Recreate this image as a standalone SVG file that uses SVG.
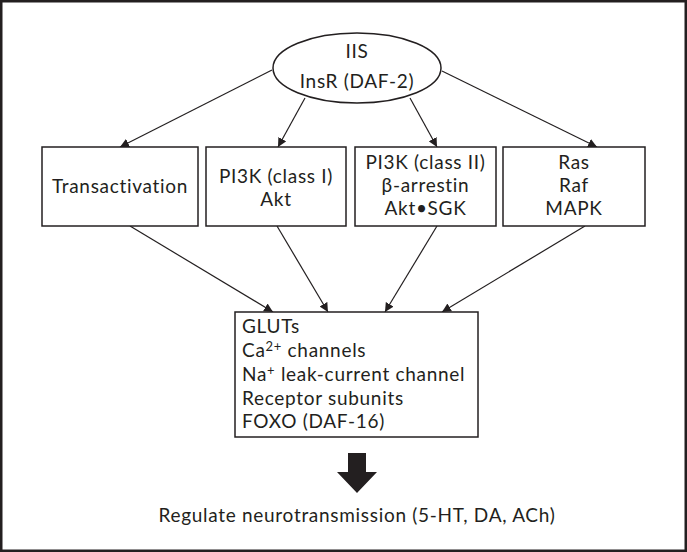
<svg xmlns="http://www.w3.org/2000/svg" width="687" height="552" viewBox="0 0 687 552">
<defs>
<marker id="ah" viewBox="0 0 10 10" refX="10" refY="5" markerWidth="9" markerHeight="9" markerUnits="userSpaceOnUse" orient="auto">
<path d="M0,0 L10,5 L0,10 z" fill="#231f20"/>
</marker>
<style>
.t{font-family:Lato,"Open Sans","DejaVu Sans",sans-serif;font-size:19px;letter-spacing:0.7px;fill:#231f20}
.c{text-anchor:middle}
.box{fill:#fff;stroke:#231f20;stroke-width:1.5}
.ln{stroke:#231f20;stroke-width:1.2;fill:none;marker-end:url(#ah)}
</style>
</defs>
<rect x="0" y="0" width="687" height="552" fill="#fff"/>
<rect x="1.25" y="1.25" width="684.5" height="549.5" fill="none" stroke="#231f20" stroke-width="2.5"/>
<g id="connectors">
<line class="ln" x1="272" y1="70" x2="120" y2="147"/>
<line class="ln" x1="305" y1="98" x2="278" y2="147"/>
<line class="ln" x1="410" y1="98" x2="437" y2="147"/>
<line class="ln" x1="442" y1="71" x2="597" y2="147"/>
<line class="ln" x1="130" y1="226" x2="273" y2="312"/>
<line class="ln" x1="277" y1="226" x2="328" y2="312"/>
<line class="ln" x1="437" y1="226" x2="385" y2="312"/>
<line class="ln" x1="585" y1="226" x2="442" y2="312"/>
<path d="M348,453 L366,453 L366,472 L377,472 L357,493 L337,472 L348,472 z" fill="#231f20"/>
</g>
<g id="iis">
<ellipse class="box" cx="357" cy="68" rx="84" ry="35"/>
<text class="t c" x="357" y="58">IIS</text>
<text class="t c" x="357" y="88">InsR (DAF-2)</text>
</g>
<g id="transactivation">
<rect class="box" x="42" y="147" width="156" height="79"/>
<text class="t c" x="120" y="193">Transactivation</text>
</g>
<g id="pi3k1">
<rect class="box" x="206" y="147" width="140" height="79"/>
<text class="t c" x="276" y="183">PI3K (class I)</text>
<text class="t c" x="276" y="206">Akt</text>
</g>
<g id="pi3k2">
<rect class="box" x="355" y="147" width="141" height="79"/>
<text class="t c" x="425.5" y="169">PI3K (class II)</text>
<text class="t c" x="425.5" y="192">β-arrestin</text>
<text class="t c" x="425.5" y="215">Akt•SGK</text>
</g>
<g id="ras">
<rect class="box" x="503" y="147" width="142" height="79"/>
<text class="t c" x="574" y="169">Ras</text>
<text class="t c" x="574" y="192">Raf</text>
<text class="t c" x="574" y="215">MAPK</text>
</g>
<g id="targets">
<rect class="box" x="235" y="312" width="243" height="125"/>
<text class="t" x="242" y="333">GLUTs</text>
<text class="t" x="242" y="357">Ca<tspan font-size="13" dy="-6">2+</tspan><tspan dy="6"> channels</tspan></text>
<text class="t" x="242" y="381">Na<tspan font-size="13" dy="-6">+</tspan><tspan dy="6"> leak-current channel</tspan></text>
<text class="t" x="242" y="405">Receptor subunits</text>
<text class="t" x="242" y="428">FOXO (DAF-16)</text>
</g>
<g id="outcome">
<text class="t c" x="357" y="522">Regulate neurotransmission (5-HT, DA, ACh)</text>
</g>
</svg>
